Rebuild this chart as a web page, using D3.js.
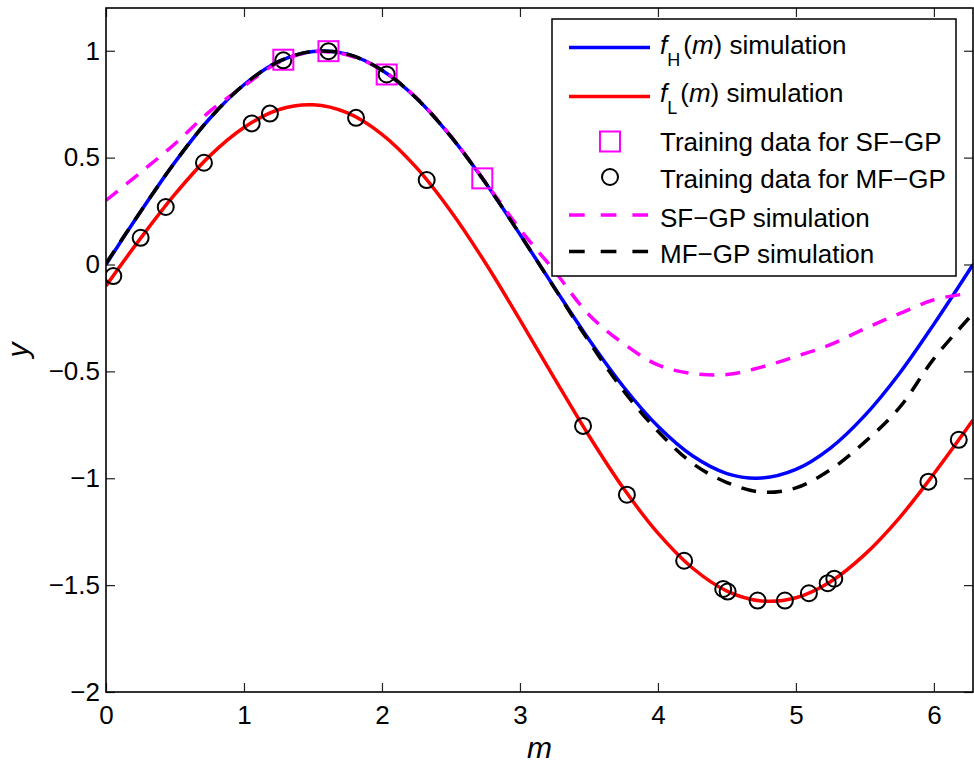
<!DOCTYPE html>
<html>
<head>
<meta charset="utf-8">
<script src="https://d3js.org/d3.v7.min.js"></script>
<style>
  body { margin: 0; background: white; }
  svg { display: block; font-family: "Liberation Sans", Arial, sans-serif; }
</style>
</head>
<body>
<script>
const width = 974, height = 765;
const plot = {left: 106, right: 973, top: 8, bottom: 692};

// m grid used for the simulated curves
const mGrid = [0, 0.25, 0.5, 0.75, 1, 1.25, 1.5, 1.75, 2, 2.25, 2.5, 2.75, 3, 3.25,
               3.5, 3.75, 4, 4.25, 4.5, 4.75, 5, 5.25, 5.5, 5.75, 6, 6.2832];
const fHigh = [0, 0.247, 0.479, 0.682, 0.841, 0.949, 0.997, 0.984, 0.909, 0.778, 0.598, 0.382, 0.141, -0.108,
               -0.351, -0.572, -0.757, -0.895, -0.978, -0.999, -0.959, -0.859, -0.706, -0.510, -0.279, 0];
const fLow = [-0.10, 0.122, 0.329, 0.507, 0.641, 0.724, 0.747, 0.709, 0.609, 0.453, 0.248, 0.007, -0.259, -0.533,
              -0.801, -1.047, -1.257, -1.420, -1.528, -1.574, -1.559, -1.484, -1.356, -1.185, -0.979, -0.728];
const mfgpSim = [0.005, 0.247, 0.479, 0.682, 0.841, 0.949, 0.997, 0.984, 0.909, 0.778, 0.598, 0.382, 0.141, -0.11,
                 -0.36, -0.59, -0.78, -0.93, -1.02, -1.065, -1.045, -0.96, -0.83, -0.67, -0.44, -0.23];

// SF-GP prediction stops a bit before 2*pi
const sfgpGrid = [0, 0.25, 0.5, 0.75, 1, 1.25, 1.5, 1.75, 2, 2.25, 2.5, 2.75, 3, 3.25,
                  3.5, 3.75, 4, 4.25, 4.5, 4.75, 5, 5.25, 5.5, 5.75, 6, 6.2];
const sfgpSim = [0.30, 0.43, 0.565, 0.715, 0.835, 0.945, 0.995, 0.98, 0.91, 0.78, 0.60, 0.385, 0.165, -0.03,
                 -0.235, -0.37, -0.47, -0.51, -0.515, -0.48, -0.43, -0.375, -0.30, -0.23, -0.165, -0.14];

// training points
const sfTrainM = [1.285, 1.612, 2.034, 2.727];
const sfTrainY = [0.958, 0.998, 0.889, 0.403];
const mfTrainM = [0.053, 0.251, 0.433, 0.710, 1.056, 1.188, 1.285, 1.612, 1.812, 2.034, 2.324, 3.457,
                  3.775, 4.19, 4.473, 4.505, 4.722, 4.920, 5.094, 5.23, 5.278, 5.96, 6.18];
const mfTrainY = [-0.054, 0.125, 0.269, 0.476, 0.66, 0.706, 0.955, 0.998, 0.686, 0.889, 0.395, -0.755,
                  -1.077, -1.386, -1.518, -1.530, -1.572, -1.572, -1.538, -1.491, -1.47, -1.016, -0.82];

const xTicks = [0, 1, 2, 3, 4, 5, 6];
const yTicks = [-2, -1.5, -1, -0.5, 0, 0.5, 1];
const yTickLabels = ["\u22122", "\u22121.5", "\u22121", "\u22120.5", "0", "0.5", "1"];

const svg = d3.select('body').append('svg')
    .attr('width', width)
    .attr('height', height);

const x = d3.scaleLinear().domain([0, 2 * Math.PI]).range([plot.left, plot.right]);
const y = d3.scaleLinear().domain([-2, 1.2]).range([plot.bottom, plot.top]);

svg.append('clipPath').attr('id', 'clip')
  .append('rect')
    .attr('x', plot.left).attr('y', plot.top)
    .attr('width', plot.right - plot.left)
    .attr('height', plot.bottom - plot.top);

const line = d3.line()
    .x(d => x(d[0]))
    .y(d => y(d[1]))
    .curve(d3.curveCatmullRom.alpha(0.5));

function zip(a, b) { return a.map((v, i) => [v, b[i]]); }

const g = svg.append('g').attr('clip-path', 'url(#clip)');

function drawCurve(xs, ys, color, dash) {
    g.append('path')
        .datum(zip(xs, ys))
        .attr('d', line)
        .attr('fill', 'none')
        .attr('stroke', color)
        .attr('stroke-width', 3.5)
        .attr('stroke-dasharray', dash || null);
}

drawCurve(mGrid, fHigh, '#0000ff');
drawCurve(mGrid, fLow, '#ff0000');

g.selectAll('rect.sf')
    .data(zip(sfTrainM, sfTrainY))
    .enter().append('rect')
    .attr('class', 'sf')
    .attr('x', d => x(d[0]) - 10)
    .attr('y', d => y(d[1]) - 10)
    .attr('width', 20).attr('height', 20)
    .attr('fill', 'none')
    .attr('stroke', '#ff00ff')
    .attr('stroke-width', 2);

g.selectAll('circle.mf')
    .data(zip(mfTrainM, mfTrainY))
    .enter().append('circle')
    .attr('class', 'mf')
    .attr('cx', d => x(d[0]))
    .attr('cy', d => y(d[1]))
    .attr('r', 8)
    .attr('fill', 'none')
    .attr('stroke', 'black')
    .attr('stroke-width', 2);

drawCurve(sfgpGrid, sfgpSim, '#ff00ff', '15,11');
drawCurve(mGrid, mfgpSim, 'black', '15,11');

// axes: ticks point inward on all four sides
const tick = 9;
svg.append('g')
    .attr('transform', `translate(0,${plot.bottom})`)
    .call(d3.axisBottom(x).tickValues(xTicks).tickSize(-tick).tickPadding(14).tickFormat(d3.format('d')))
    .call(a => a.select('.domain').remove());
svg.append('g')
    .attr('transform', `translate(0,${plot.top})`)
    .call(d3.axisTop(x).tickValues(xTicks).tickSize(-tick).tickFormat(''))
    .call(a => a.select('.domain').remove());
svg.append('g')
    .attr('transform', `translate(${plot.left},0)`)
    .call(d3.axisLeft(y).tickValues(yTicks).tickSize(-tick).tickPadding(6)
        .tickFormat((d, i) => yTickLabels[i]))
    .call(a => a.select('.domain').remove());
svg.append('g')
    .attr('transform', `translate(${plot.right},0)`)
    .call(d3.axisRight(y).tickValues(yTicks).tickSize(-tick).tickFormat(''))
    .call(a => a.select('.domain').remove());

svg.selectAll('.tick line').attr('stroke', '#222').attr('stroke-width', 1.2);
svg.selectAll('.tick text')
    .attr('fill', 'black')
    .style('font-size', '26px')
    .style('font-family', '"Liberation Sans", Arial, sans-serif');

svg.append('rect')
    .attr('x', plot.left).attr('y', plot.top)
    .attr('width', plot.right - plot.left)
    .attr('height', plot.bottom - plot.top)
    .attr('fill', 'none')
    .attr('stroke', 'black')
    .attr('stroke-width', 1.6);

// axis labels
svg.append('text')
    .attr('x', (plot.left + plot.right) / 2)
    .attr('y', 758)
    .attr('text-anchor', 'middle')
    .style('font-size', '30px')
    .style('font-style', 'italic')
    .text('m');
svg.append('text')
    .attr('transform', `translate(28,${(plot.top + plot.bottom) / 2}) rotate(-90)`)
    .attr('text-anchor', 'middle')
    .style('font-size', '30px')
    .style('font-style', 'italic')
    .text('y');

// legend
const leg = svg.append('g');
leg.append('rect')
    .attr('x', 552).attr('y', 19)
    .attr('width', 404).attr('height', 257)
    .attr('fill', 'white')
    .attr('stroke', 'black')
    .attr('stroke-width', 1.5);

const lx1 = 569, lx2 = 650, lmid = 610, tx = 660;

function legLine(yy, color, dash) {
    leg.append('line')
        .attr('x1', lx1).attr('x2', lx2)
        .attr('y1', yy).attr('y2', yy)
        .attr('stroke', color)
        .attr('stroke-width', 3.5)
        .attr('stroke-dasharray', dash || null);
}

function subLabel(yy, sub) {
    const t = leg.append('text').attr('x', tx).attr('y', yy).style('font-size', '26px');
    t.append('tspan').style('font-style', 'italic').text('f');
    t.append('tspan').attr('dy', 12.5).style('font-size', '18px').text(sub);
    t.append('tspan').attr('dy', -12.5).attr('dx', 3).text('(');
    t.append('tspan').style('font-style', 'italic').text('m');
    t.append('tspan').text(') simulation');
}

function plainLabel(yy, s) {
    leg.append('text').attr('x', tx).attr('y', yy).style('font-size', '26px').text(s);
}

legLine(47.5, '#0000ff');
subLabel(53.5, 'H');
legLine(96.5, '#ff0000');
subLabel(101.5, 'L');

leg.append('rect')
    .attr('x', lmid - 10).attr('y', 141.5 - 10)
    .attr('width', 20).attr('height', 20)
    .attr('fill', 'none').attr('stroke', '#ff00ff').attr('stroke-width', 2);
plainLabel(151, 'Training data for SF\u2212GP');

leg.append('circle')
    .attr('cx', lmid).attr('cy', 177)
    .attr('r', 8)
    .attr('fill', 'none').attr('stroke', 'black').attr('stroke-width', 2);
plainLabel(188, 'Training data for MF\u2212GP');

legLine(215, '#ff00ff', '15.7,16');
plainLabel(226.5, 'SF\u2212GP simulation');
legLine(251.5, 'black', '15.7,16');
plainLabel(263, 'MF\u2212GP simulation');
</script>
</body>
</html>
